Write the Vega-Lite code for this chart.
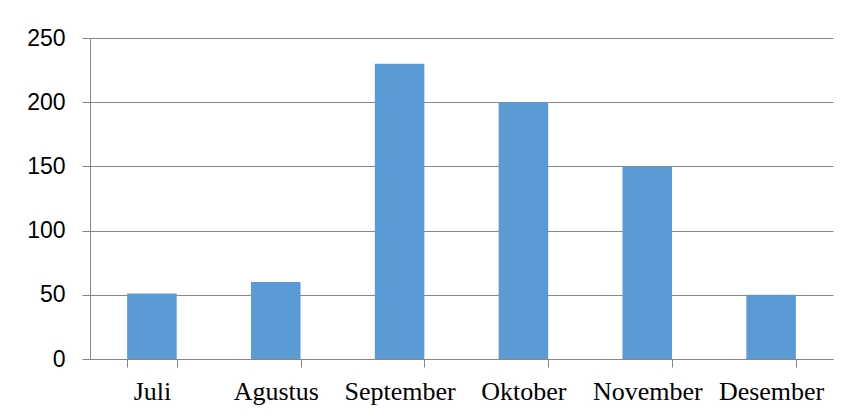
{
  "$schema": "https://vega.github.io/schema/vega-lite/v6.json",
  "autosize": {"type": "none"},
  "width": 743,
  "height": 321,
  "padding": {"left": 90, "top": 38, "right": 16, "bottom": 59},
  "background": "white",
  "config": {"view": {"stroke": null}},
  "data": {
    "values": [
      {"bulan": "Juli", "nilai": 51},
      {"bulan": "Agustus", "nilai": 60},
      {"bulan": "September", "nilai": 230},
      {"bulan": "Oktober", "nilai": 200},
      {"bulan": "November", "nilai": 150},
      {"bulan": "Desember", "nilai": 50}
    ]
  },
  "mark": {"type": "bar", "color": "#5B9BD5"},
  "encoding": {
    "x": {
      "field": "bulan",
      "type": "nominal",
      "sort": null,
      "scale": {"paddingInner": 0.6, "paddingOuter": 0.3},
      "axis": {
        "title": null,
        "labelAngle": 0,
        "labelFont": "Liberation Serif",
        "labelFontSize": 26,
        "labelColor": "#000000",
        "labelPadding": 11,
        "tickBand": "extent",
        "tickSize": 8,
        "tickColor": "#868686",
        "domainColor": "#868686",
        "grid": false
      }
    },
    "y": {
      "field": "nilai",
      "type": "quantitative",
      "scale": {"domain": [0, 250]},
      "axis": {
        "title": null,
        "values": [0, 50, 100, 150, 200, 250],
        "labelFont": "Liberation Sans",
        "labelFontSize": 23,
        "labelColor": "#000000",
        "labelPadding": 17,
        "tickSize": 8,
        "tickColor": "#868686",
        "domainColor": "#868686",
        "grid": true,
        "gridColor": "#868686",
        "gridOpacity": 1
      }
    }
  }
}
